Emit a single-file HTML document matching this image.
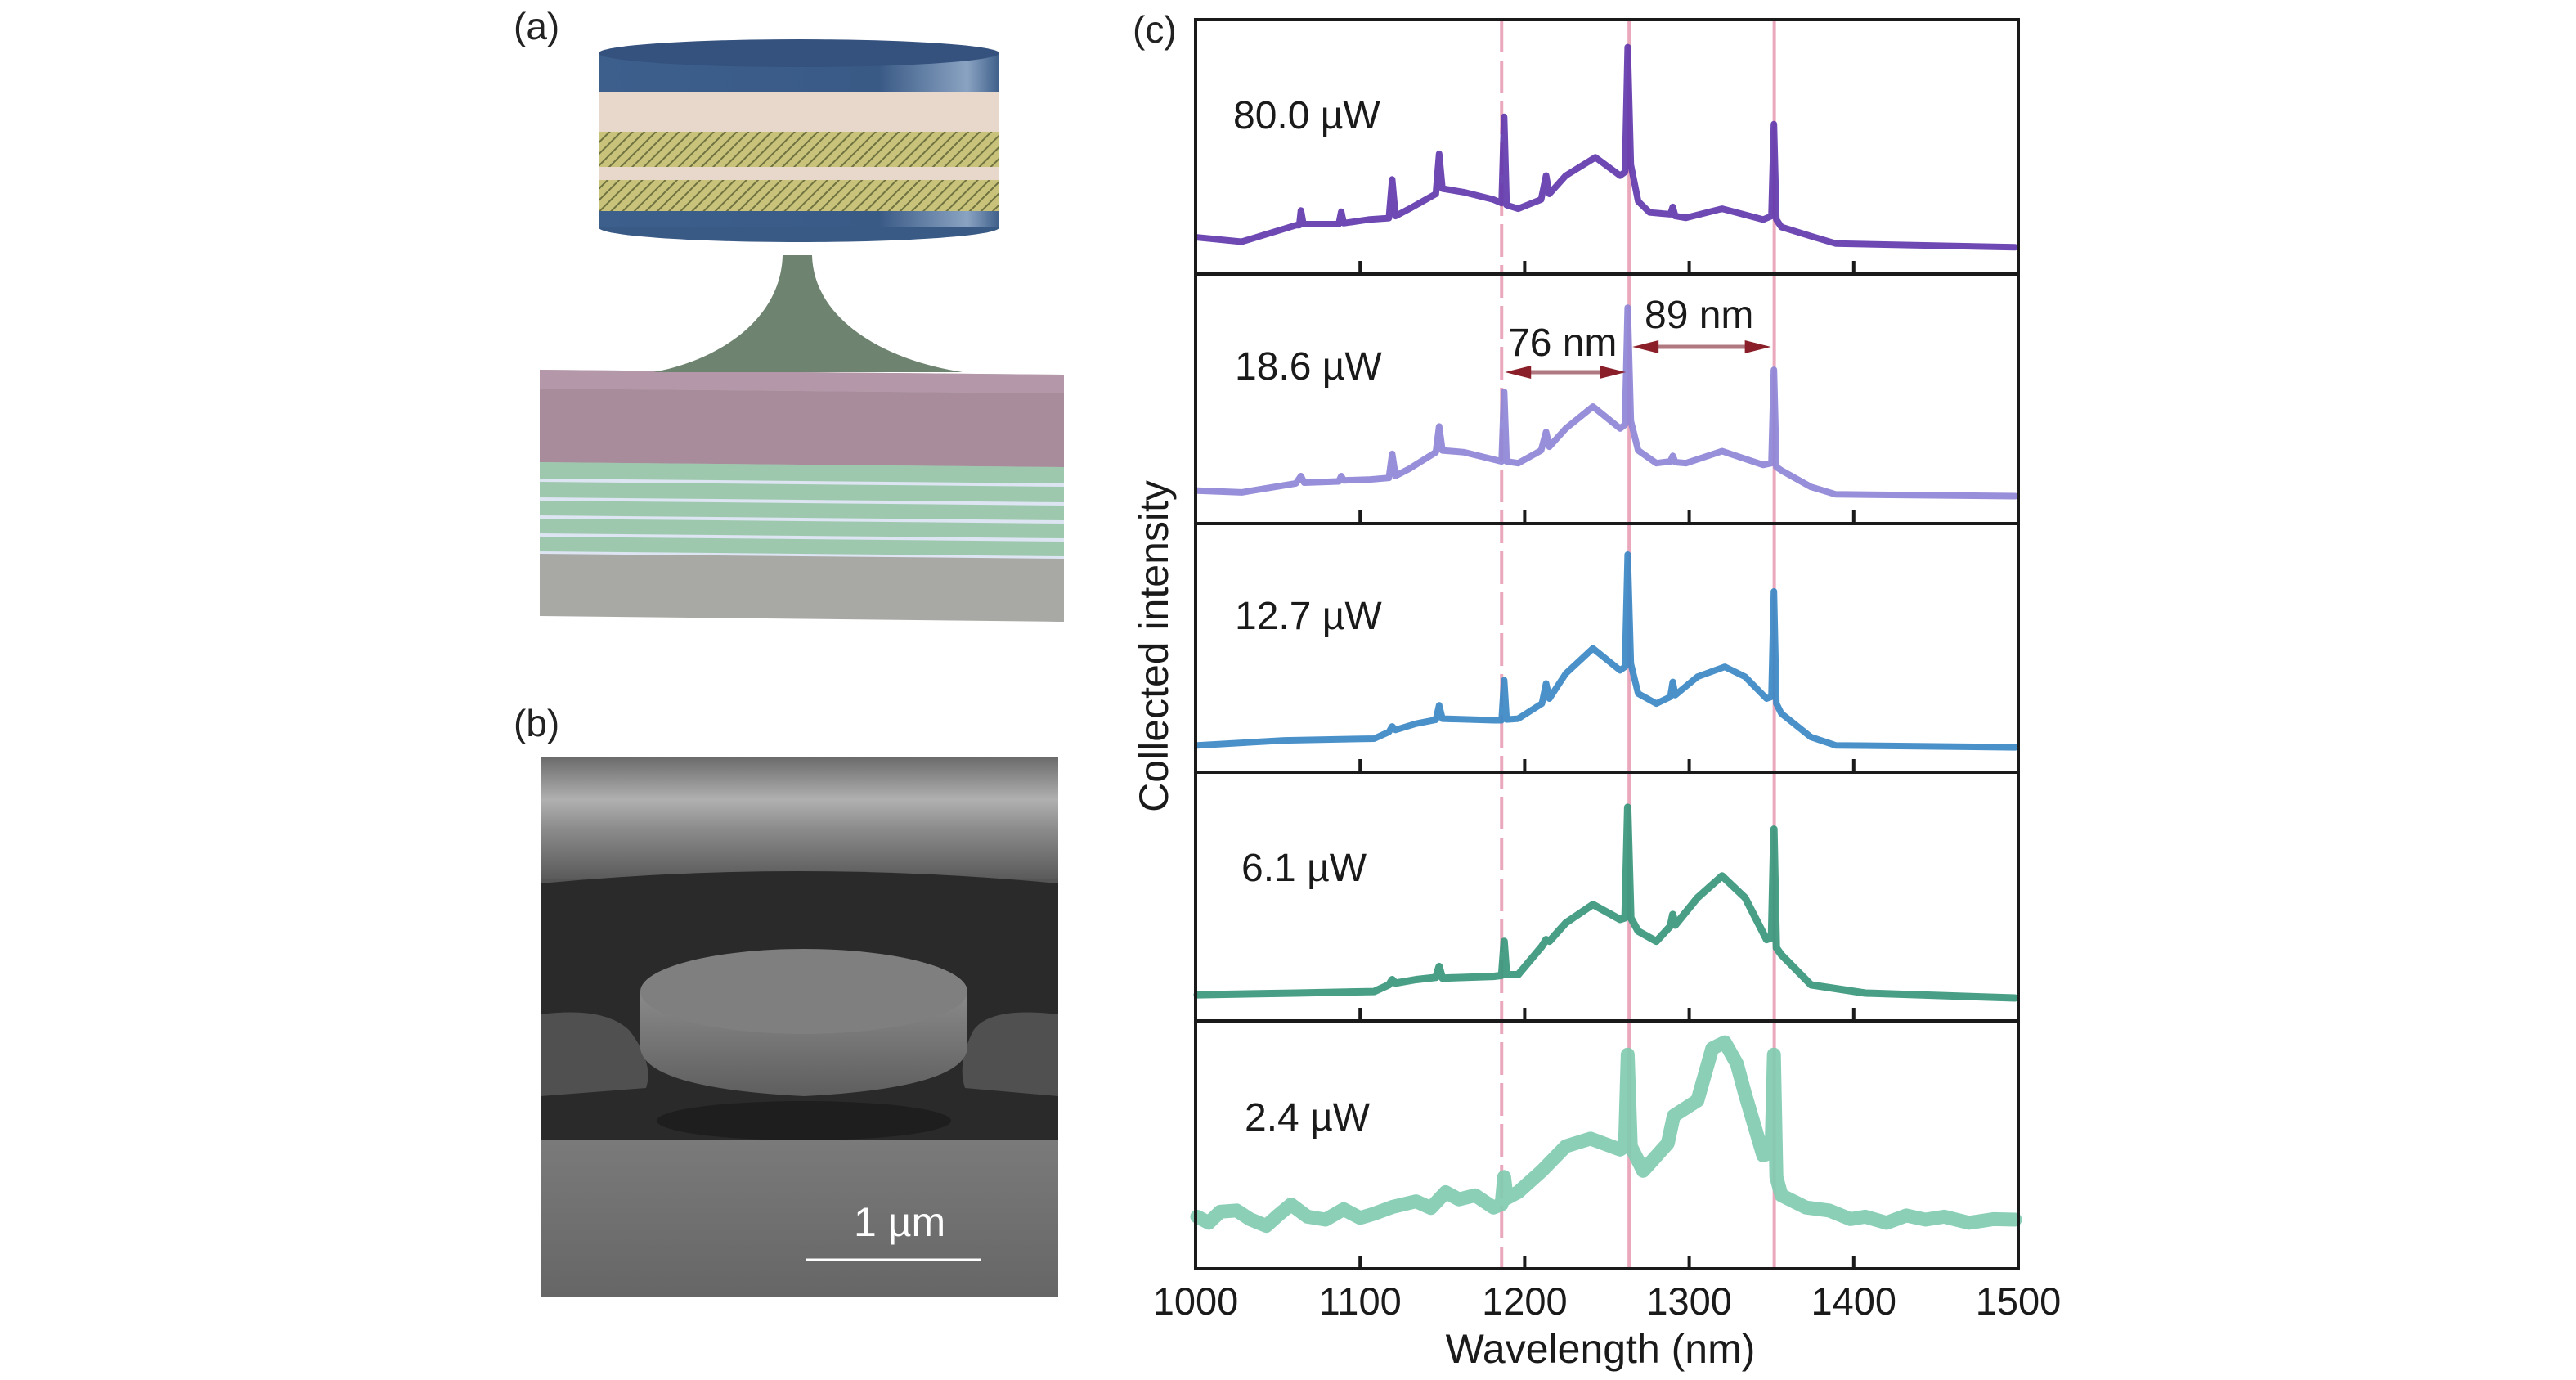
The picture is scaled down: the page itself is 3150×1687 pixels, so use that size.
<!DOCTYPE html>
<html><head><meta charset="utf-8"><style>
html,body{margin:0;padding:0;background:#fff;}
svg{display:block;font-family:"Liberation Sans",sans-serif;}
</style></head><body>
<svg id="fig" width="3150" height="1687" viewBox="0 0 3150 1687" xmlns="http://www.w3.org/2000/svg">
<defs>
<pattern id="hatch" width="10" height="10" patternUnits="userSpaceOnUse" patternTransform="rotate(45)"><rect width="10" height="10" fill="#c9c27a"/><line x1="0" y1="0" x2="0" y2="10" stroke="#6f7340" stroke-width="4"/></pattern>
<linearGradient id="blue" x1="0" x2="1"><stop offset="0" stop-color="#3c5f8c"/><stop offset="0.7" stop-color="#3a5a86"/><stop offset="0.92" stop-color="#8aa3c2"/><stop offset="1" stop-color="#3e5f8a"/></linearGradient>
<linearGradient id="semtop" x1="0" y1="0" x2="0" y2="1"><stop offset="0" stop-color="#6a6a6a"/><stop offset="0.35" stop-color="#b0b0b0"/><stop offset="0.6" stop-color="#8a8a8a"/><stop offset="1" stop-color="#5a5a5a"/></linearGradient>
<linearGradient id="semsub" x1="0" y1="0" x2="0" y2="1"><stop offset="0" stop-color="#7a7a7a"/><stop offset="1" stop-color="#666"/></linearGradient>
<linearGradient id="disk" x1="0" y1="0" x2="0" y2="1"><stop offset="0" stop-color="#8a8a8a"/><stop offset="1" stop-color="#5e5e5e"/></linearGradient>
</defs>

<!-- panel (a) -->
<g>
<text x="628" y="48" font-size="46" fill="#222">(a)</text>
<polygon points="660,452 1301,458 1301,760 1000,753 660,753" fill="#b8b8b0"/>
<polygon points="660,475 1301,481 1301,571 660,565" fill="#a88c9c"/>
<polygon points="660,565 1301,571 1301,683 660,677" fill="#9ec8ae"/>
<g stroke="#dde4f2" stroke-width="4"><line x1="660" y1="587" x2="1301" y2="593"/><line x1="660" y1="610" x2="1301" y2="616"/><line x1="660" y1="632" x2="1301" y2="638"/><line x1="660" y1="654" x2="1301" y2="660"/><line x1="660" y1="676" x2="1301" y2="682"/></g>
<polygon points="660,677 1301,683 1301,760 660,753" fill="#a8a8a4"/>
<polygon points="660,452 1301,458 1301,481 660,475" fill="#b497a8"/>
<path d="M957,312 L993,312 C995,390 1080,440 1177,455 L799,455 C880,440 955,390 957,312 Z" fill="#6e8470"/>
<ellipse cx="977" cy="278" rx="245" ry="18" fill="#3a5a86"/>
<rect x="732" y="65" width="490" height="213" fill="url(#blue)"/>
<rect x="732" y="113" width="490" height="48" fill="#e8d8cc"/>
<rect x="732" y="161" width="490" height="43" fill="url(#hatch)"/>
<rect x="732" y="204" width="490" height="16" fill="#e8d8cc"/>
<rect x="732" y="220" width="490" height="38" fill="url(#hatch)"/>
<ellipse cx="977" cy="65" rx="245" ry="17" fill="#35527e"/>
</g>

<!-- panel (b) -->
<g>
<text x="628" y="900" font-size="46" fill="#222">(b)</text>
<rect x="661" y="925" width="633" height="661" fill="#555"/>
<rect x="661" y="925" width="633" height="150" fill="url(#semtop)"/>
<path d="M661,1080 Q977,1050 1294,1080 L1294,1400 L661,1400 Z" fill="#2a2a2a"/>
<path d="M661,1240 Q740,1230 770,1260 Q800,1300 790,1330 L661,1340 Z" fill="#5a5a5a" opacity="0.8"/>
<path d="M1294,1240 Q1210,1230 1190,1260 Q1170,1300 1180,1330 L1294,1340 Z" fill="#5a5a5a" opacity="0.8"/>
<rect x="661" y="1394" width="633" height="192" fill="url(#semsub)"/>
<ellipse cx="983" cy="1370" rx="180" ry="24" fill="#1e1e1e"/>
<path d="M783,1212 L783,1282 Q790,1330 983,1340 Q1176,1330 1183,1282 L1183,1212 Z" fill="url(#disk)"/>
<ellipse cx="983" cy="1212" rx="200" ry="52" fill="#7f7f7f"/>
<text x="1044" y="1511" font-size="50" fill="#fff">1 µm</text>
<line x1="986" y1="1540" x2="1200" y2="1540" stroke="#fff" stroke-width="3"/>
</g>

<!-- panel (c) -->
<text x="1385" y="52" font-size="46" fill="#222">(c)</text>
<g id="chart"></g>
</svg>
<script>
const powerLabels = ["80.0 µW","18.6 µW","12.7 µW","6.1 µW","2.4 µW"];
const xTicks = [1000,1100,1200,1300,1400,1500];
const markerWavelengths = [1186,1263.5,1351.7];
const wl1 = [1001,1028,1061,1063,1064,1065.5,1087,1088.5,1090,1105,1117.5,1119.5,1121.5,1130,1146,1148,1150,1163,1181,1186,1187.5,1189,1196,1210,1213,1215,1225,1243,1258,1261,1262.6,1264.5,1269,1276,1288.5,1290,1291.5,1298,1320,1345,1350,1351.5,1353,1356,1374,1389,1498];
const int1 = [0.144,0.127,0.192,0.192,0.25,0.196,0.196,0.245,0.2,0.214,0.22,0.372,0.228,0.257,0.315,0.473,0.336,0.322,0.293,0.279,0.618,0.271,0.257,0.293,0.387,0.315,0.387,0.459,0.387,0.401,0.892,0.43,0.286,0.242,0.235,0.264,0.228,0.221,0.257,0.214,0.228,0.589,0.214,0.185,0.149,0.12,0.105];
const wl2 = [1001,1028,1061,1064,1066,1087,1088.5,1090,1105,1117.5,1119.5,1121.5,1130,1146,1148,1150,1163,1181,1186,1187.5,1189,1196,1210,1213,1215,1225,1241.5,1258,1261,1262.6,1264.5,1269,1280,1288.5,1290,1291.5,1298,1320,1345,1350,1351.5,1353,1356,1374,1389,1498];
const int2 = [0.132,0.125,0.161,0.19,0.164,0.169,0.19,0.173,0.176,0.183,0.279,0.191,0.22,0.286,0.389,0.293,0.286,0.257,0.249,0.528,0.249,0.242,0.293,0.367,0.308,0.381,0.469,0.381,0.396,0.865,0.411,0.293,0.242,0.249,0.271,0.246,0.242,0.29,0.235,0.242,0.616,0.227,0.213,0.147,0.117,0.11];
const wl3 = [1001,1054,1108.5,1117.5,1119.5,1121.5,1134,1146,1148,1150,1181,1186,1187.5,1189,1196,1210.5,1213,1215,1225,1241.5,1258,1261,1262.6,1264.5,1269,1280,1288.5,1290,1291.5,1305,1321.6,1334,1347,1350,1351.5,1353,1356,1374,1389,1498];
const int3 = [0.108,0.128,0.135,0.162,0.184,0.17,0.195,0.211,0.269,0.215,0.209,0.209,0.37,0.212,0.215,0.276,0.357,0.296,0.397,0.498,0.41,0.424,0.875,0.437,0.316,0.276,0.303,0.363,0.31,0.384,0.424,0.384,0.296,0.303,0.727,0.276,0.236,0.141,0.108,0.1];
const wl4 = [1001,1061,1108.5,1117.5,1119.5,1121.5,1134,1146,1148,1150,1181,1186,1187.5,1189,1196,1210.5,1213,1215,1225,1241.5,1258,1261,1262.6,1264.5,1269,1280,1288.5,1290,1291.5,1305,1320,1334,1347,1350,1351.5,1353,1356,1374,1407,1498];
const int4 = [0.105,0.112,0.118,0.145,0.166,0.152,0.166,0.175,0.219,0.172,0.179,0.183,0.32,0.186,0.186,0.3,0.327,0.32,0.394,0.468,0.408,0.414,0.859,0.414,0.361,0.32,0.381,0.428,0.385,0.495,0.583,0.495,0.327,0.334,0.771,0.294,0.266,0.145,0.112,0.092];
const wl5 = [1001,1008,1015,1025,1033,1043,1050,1058,1068,1079,1090,1100,1108.5,1120,1134,1143,1152,1160,1170,1181,1186,1187.5,1189,1196,1210.5,1225,1240,1258,1261,1262.6,1264.5,1272,1287,1290.6,1305,1314,1321.6,1329,1334,1345,1350,1351.5,1353,1356,1371,1385,1398,1407,1420,1432,1443.6,1455,1470,1485,1498];
const int5 = [0.21,0.185,0.23,0.235,0.2,0.173,0.215,0.259,0.21,0.198,0.24,0.205,0.222,0.25,0.272,0.245,0.309,0.28,0.296,0.247,0.26,0.37,0.284,0.309,0.395,0.494,0.525,0.481,0.494,0.864,0.494,0.395,0.506,0.617,0.679,0.889,0.914,0.827,0.704,0.457,0.47,0.864,0.37,0.296,0.247,0.235,0.2,0.21,0.185,0.215,0.198,0.21,0.185,0.2,0.198];

const seriesWl = [wl1,wl2,wl3,wl4,wl5];
const seriesInt = [int1,int2,int3,int4,int5];
const colors = ["#6238ad","#8e85d6","#3b88c6","#38977c","#80cbb0"];
const widths = [8,8,8,9,17];
const NS = "http://www.w3.org/2000/svg";
const X0 = 1462, X1 = 2468, TOP = 24;
const bounds = [24,335,640,944,1248,1551];
function xs(w){ return X0 + (w-1000)/500*(X1-X0); }
function ys(p,v){ return bounds[p+1] - v*(bounds[p+1]-bounds[p]); }
const g = document.getElementById('chart');
function mk(tag, attrs, parent){ const e=document.createElementNS(NS,tag); for(const k in attrs) e.setAttribute(k,attrs[k]); (parent||g).appendChild(e); return e; }

markerWavelengths.forEach((w,i)=>{
  const l = mk('line',{x1:xs(w),x2:xs(w),y1:TOP,y2:bounds[5],stroke:'#e69ab0','stroke-width':4,opacity:0.85});
  if(i===0) l.setAttribute('stroke-dasharray','40 10');
  
  
});

for(let p=0;p<5;p++){
  let d='';
  seriesWl[p].forEach((w,i)=>{ d += (i?'L':'M') + xs(w).toFixed(1)+','+ys(p,seriesInt[p][i]).toFixed(1); });
  const path = mk('path',{d:d,fill:'none',stroke:colors[p],'stroke-width':widths[p],'stroke-linejoin':'round','stroke-linecap':'round',opacity:0.92});
  
  
}

for(let p=0;p<5;p++){
  const r = mk('rect',{x:X0,y:bounds[p],width:X1-X0,height:bounds[p+1]-bounds[p],fill:'none',stroke:'#1a1a1a','stroke-width':4});
  
  
  xTicks.slice(1,-1).forEach(t=>{
    const tk = mk('line',{x1:xs(t),x2:xs(t),y1:bounds[p+1],y2:bounds[p+1]-16,stroke:'#1a1a1a','stroke-width':4});
    
    
  });
}
xTicks.forEach(t=>{
  const tx = mk('text',{x:xs(t),y:1607,'font-size':47,'text-anchor':'middle',fill:'#1a1a1a'});
  tx.textContent = t;
  
  
});
const labelPos = [[1508,157],[1510,464],[1510,769],[1518,1077],[1522,1382]];
powerLabels.forEach((s,i)=>{
  const tx = mk('text',{x:labelPos[i][0],y:labelPos[i][1],'font-size':48,fill:'#1a1a1a'});
  tx.textContent = s;
  
  
});
const xt = mk('text',{x:1957,y:1666,'font-size':50,'text-anchor':'middle',fill:'#1a1a1a'});
xt.textContent='Wavelength (nm)';


const yt = mk('text',{x:0,y:0,'font-size':50,'text-anchor':'middle',fill:'#1a1a1a',transform:'translate(1428,790) rotate(-90)'});
yt.textContent='Collected intensity';



function arrow(w1,w2,y,name){
  const a = mk('line',{x1:xs(w1)+14,x2:xs(w2)-14,y1:y,y2:y,stroke:'#b07880','stroke-width':5});
  
  
  const h1 = mk('polygon',{points:`${xs(w1)+4},${y} ${xs(w1)+36},${y-8} ${xs(w1)+36},${y+8}`,fill:'#8a1f2a'});
  
  
  const h2 = mk('polygon',{points:`${xs(w2)-4},${y} ${xs(w2)-36},${y-8} ${xs(w2)-36},${y+8}`,fill:'#8a1f2a'});
  
  
}
arrow(markerWavelengths[0],markerWavelengths[1],455,'spacing-arrow-76');
arrow(markerWavelengths[1],markerWavelengths[2],424,'spacing-arrow-89');
const a1 = mk('text',{x:1844,y:435,'font-size':48,fill:'#1a1a1a'});
a1.textContent='76 nm';


const a2 = mk('text',{x:2011,y:401,'font-size':48,fill:'#1a1a1a'});
a2.textContent='89 nm';


</script>
</body></html>
